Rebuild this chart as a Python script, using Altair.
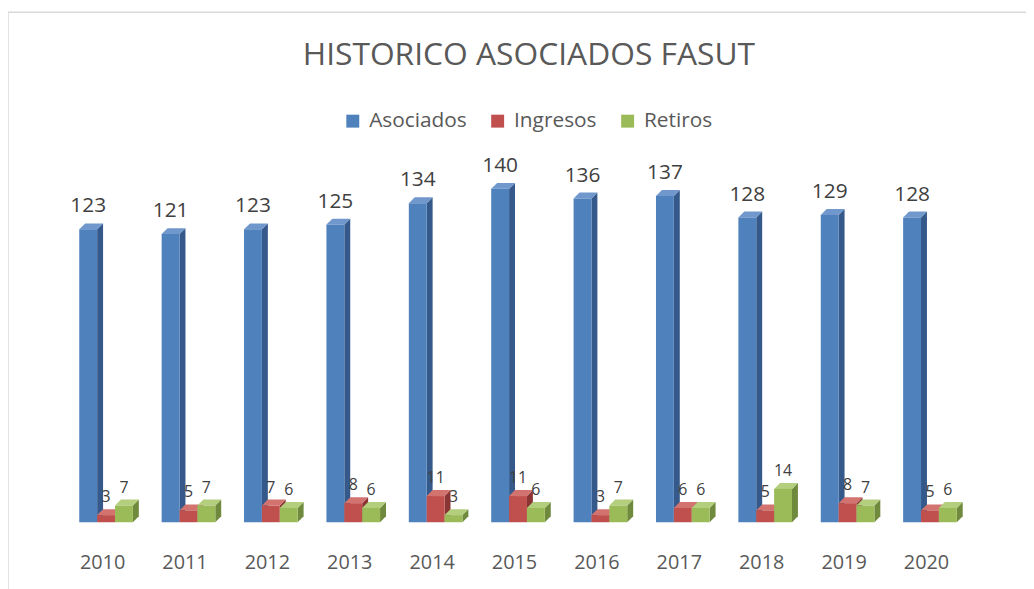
import altair as alt
import pandas as pd

years = ["2010", "2011", "2012", "2013", "2014", "2015", "2016", "2017", "2018", "2019", "2020"]
asociados = [123, 121, 123, 125, 134, 140, 136, 137, 128, 129, 128]
ingresos = [3, 5, 7, 8, 11, 11, 3, 6, 5, 8, 5]
retiros = [7, 7, 6, 6, 3, 6, 7, 6, 14, 7, 6]

series_names = ["Asociados", "Ingresos", "Retiros"]
series_values = [asociados, ingresos, retiros]
front_colors = ["#4F81BD", "#C0504D", "#9BBB59"]
side_colors = ["#34598A", "#8A3533", "#6F8A3C"]
top_colors = ["#7098CC", "#D27370", "#B3CE7C"]

# geometry (in scale units) of the grouped 3D-like bars
offsets = [-0.277, -0.06, 0.157]
bw = 0.217
dx_ = 0.072
dy_ = 2.5

fronts, sides, tops = [], [], []
for k, (name, vals) in enumerate(zip(series_names, series_values)):
    for i, v in enumerate(vals):
        x0 = i + offsets[k]
        x1 = x0 + bw
        bid = f"{name}-{i}"
        fronts.append({"serie": name, "year": years[i], "value": v, "x0": x0, "x1": x1,
                       "xc": (x0 + x1) / 2, "big": k == 0})
        sides += [
            {"bid": bid, "x": x1, "top": v, "bot": 0, "c": side_colors[k]},
            {"bid": bid, "x": x1 + dx_, "top": v + dy_, "bot": dy_, "c": side_colors[k]},
        ]
        tops += [
            {"bid": bid, "x": x0, "top": v, "bot": v, "c": top_colors[k]},
            {"bid": bid, "x": x0 + dx_, "top": v + dy_, "bot": v, "c": top_colors[k]},
            {"bid": bid, "x": x1, "top": v + dy_, "bot": v, "c": top_colors[k]},
            {"bid": bid, "x": x1 + dx_, "top": v + dy_, "bot": v + dy_, "c": top_colors[k]},
        ]

df_front = pd.DataFrame(fronts)
df_side = pd.DataFrame(sides)
df_top = pd.DataFrame(tops)

FONT = "Open Sans"
xscale = alt.Scale(domain=[-0.6, 10.6], nice=False, zero=False)
yscale = alt.Scale(domain=[0, 150], nice=False)
label_arr = "[" + ",".join(f"'{y}'" for y in years) + "]"

xaxis = alt.Axis(values=list(range(len(years))), labelExpr=f"{label_arr}[datum.value]",
                 domain=False, ticks=False, grid=False, labelFontSize=20, labelFont=FONT,
                 labelColor="#595959", labelPadding=31, title=None)

side_layer = alt.Chart(df_side).mark_area(interpolate="linear").encode(
    x=alt.X("x:Q", scale=xscale, axis=xaxis),
    y=alt.Y("top:Q", scale=yscale, axis=None),
    y2="bot:Q",
    detail="bid:N",
    color=alt.Color("c:N", scale=None, legend=None),
)
top_layer = alt.Chart(df_top).mark_area(interpolate="linear").encode(
    x=alt.X("x:Q", scale=xscale, axis=xaxis),
    y=alt.Y("top:Q", scale=yscale, axis=None),
    y2="bot:Q",
    detail="bid:N",
    color=alt.Color("c:N", scale=None, legend=None),
)
front_layer = alt.Chart(df_front).mark_rect().encode(
    x=alt.X("x0:Q", scale=xscale, axis=xaxis),
    x2="x1:Q",
    y=alt.Y("value:Q", scale=yscale, axis=None),
    y2=alt.datum(0),
    fill=alt.Fill("serie:N", scale=alt.Scale(domain=series_names, range=front_colors),
                  legend=alt.Legend(title=None, orient="none", legendX=292, legendY=-55,
                                    direction="horizontal", symbolType="square", symbolSize=170,
                                    symbolStrokeWidth=0, labelFont=FONT, labelFontSize=21,
                                    labelColor="#595959", columnPadding=20, labelOffset=6)),
)
big_labels = alt.Chart(df_front).transform_filter("datum.big").mark_text(
    baseline="alphabetic", dy=-17, fontSize=21, font=FONT, color="#404040"
).encode(x=alt.X("xc:Q", scale=xscale), y=alt.Y("value:Q", scale=yscale), text="value:Q")
small_labels = alt.Chart(df_front).transform_filter("!datum.big").mark_text(
    baseline="alphabetic", dy=-13, fontSize=16, font=FONT, color="#404040"
).encode(x=alt.X("xc:Q", scale=xscale), y=alt.Y("value:Q", scale=yscale), text="value:Q")

one = pd.DataFrame({"a": [0]})
frame_left = alt.Chart(one).mark_rule(color="#D9D9D9", strokeWidth=1.5).encode(
    x=alt.value(-45), y=alt.value(-154), y2=alt.value(440))
frame_top = alt.Chart(one).mark_rule(color="#D9D9D9", strokeWidth=1.5).encode(
    x=alt.value(-45), x2=alt.value(990), y=alt.value(-154))

chart = alt.layer(
    frame_left, frame_top, side_layer, top_layer, front_layer, big_labels, small_labels
).resolve_scale(color="independent", fill="independent").properties(
    width=930, height=360,
    autosize=alt.AutoSizeParams(type="none"),
    padding={"left": 45, "top": 156, "right": 51, "bottom": 65},
    title=alt.TitleParams("HISTORICO ASOCIADOS FASUT", fontSize=32, font=FONT, color="#595959",
                          fontWeight="normal", anchor="middle", dx=15, baseline="alphabetic",
                          offset=0, dy=86),
    background="white",
).configure_view(stroke=None)

chart.save("out.html", embed_options={"renderer": "svg", "actions": False})
